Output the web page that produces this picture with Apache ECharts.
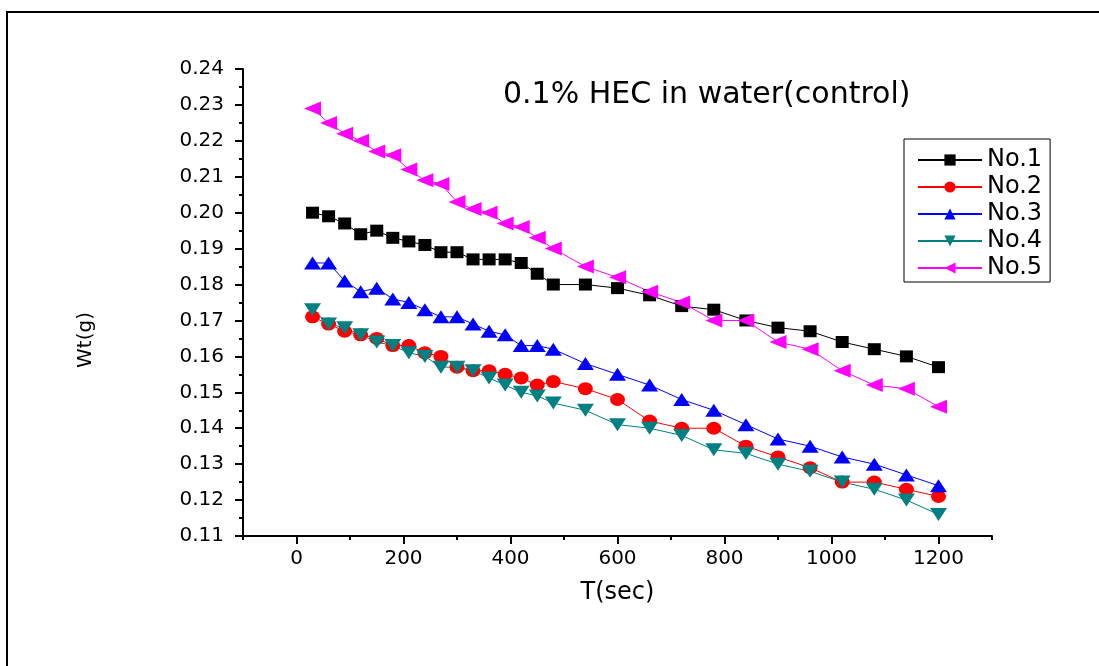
<!DOCTYPE html>
<html>
<head>
<meta charset="utf-8">
<script src="https://cdn.jsdelivr.net/npm/echarts@6/dist/echarts.min.js"></script>
<style>
html,body{margin:0;padding:0;background:#fff;}
#chart{width:1099px;height:666px;}
</style>
</head>
<body>
<div id="chart"></div>
<script>
const times = [30,60,90,120,150,180,210,240,270,300,330,360,390,420,450,480,540,600,660,720,780,840,900,960,1020,1080,1140,1200];
const no1 = [0.200,0.199,0.197,0.194,0.195,0.193,0.192,0.191,0.189,0.189,0.187,0.187,0.187,0.186,0.183,0.180,0.180,0.179,0.177,0.174,0.173,0.170,0.168,0.167,0.164,0.162,0.160,0.157];
const no2 = [0.171,0.169,0.167,0.166,0.165,0.163,0.163,0.161,0.160,0.157,0.156,0.156,0.155,0.154,0.152,0.153,0.151,0.148,0.142,0.140,0.140,0.135,0.132,0.129,0.125,0.125,0.123,0.121];
const no3 = [0.186,0.186,0.181,0.178,0.179,0.176,0.175,0.173,0.171,0.171,0.169,0.167,0.166,0.163,0.163,0.162,0.158,0.155,0.152,0.148,0.145,0.141,0.137,0.135,0.132,0.130,0.127,0.124];
const no4 = [0.173,0.169,0.168,0.166,0.164,0.163,0.161,0.160,0.157,0.157,0.156,0.154,0.152,0.150,0.149,0.147,0.145,0.141,0.140,0.138,0.134,0.133,0.130,0.128,0.125,0.123,0.120,0.116];
const no5 = [0.229,0.225,0.222,0.220,0.217,0.216,0.212,0.209,0.208,0.203,0.201,0.200,0.197,0.196,0.193,0.190,0.185,0.182,0.178,0.175,0.170,0.170,0.164,0.162,0.156,0.152,0.151,0.146];
const seriesNames = ['No.1','No.2','No.3','No.4','No.5'];
const xTickLabels = [0,200,400,600,800,1000,1200];
const titleText = '0.1% HEC in water(control)';
const xName = 'T(sec)';
const yName = 'Wt(g)';

const FONT = 'DejaVu Sans';
const pair = arr => times.map((t, i) => [t, arr[i]]);

const styles = [
  {color:'#000000', symbol:'rect', size:[13,12], rotate:0},
  {color:'#ff0000', symbol:'circle', size:[15,13], rotate:0},
  {color:'#0000ff', symbol:'triangle', size:[17,13], rotate:0},
  {color:'#008080', symbol:'triangle', size:[17,13], rotate:180},
  {color:'#ff00ff', symbol:'triangle', size:[14,17], rotate:90}
];
const datasets = [no1,no2,no3,no4,no5];

const chart = echarts.init(document.getElementById('chart'), null, {renderer:'canvas'});
chart.setOption({
  animation:false,
  backgroundColor:'#ffffff',
  textStyle:{fontFamily:FONT, color:'#000'},
  title:{
    text:titleText, left:498, top:75,
    textStyle:{fontFamily:FONT, fontSize:30, fontWeight:'normal', color:'#000'}
  },
  legend:{
    orient:'vertical', left:904, top:139,
    padding:[9,8,2,13],
    itemWidth:64, itemHeight:14, itemGap:3,
    borderColor:'#000', borderWidth:1,
    textStyle:{fontFamily:FONT, fontSize:24, color:'#000'},
    data:seriesNames
  },
  graphic:[{
    type:'polyline', silent:true,
    shape:{points:[[7,700],[7,12],[1110,12]]},
    style:{stroke:'#000', lineWidth:2, fill:null}
  },{
    type:'text', silent:true,
    x:76, y:340, rotation:Math.PI/2,
    style:{text:yName, fontFamily:FONT, fontSize:20, fill:'#000', align:'center', verticalAlign:'top'}
  }],
  grid:{left:243, right:107, top:69, bottom:130, containLabel:false},
  xAxis:[{
    type:'value', min:-100, max:1300,
    name:xName, nameLocation:'middle', nameGap:45,
    nameTextStyle:{fontFamily:FONT, fontSize:24, color:'#000'},
    axisLine:{show:true, onZero:false, lineStyle:{color:'#000', width:2}},
    axisTick:{show:true, inside:false, length:8, customValues:xTickLabels, lineStyle:{color:'#000', width:2}},
    axisLabel:{show:true, customValues:xTickLabels, margin:13, fontFamily:FONT, fontSize:20, color:'#000', formatter:v => String(v)},
    splitLine:{show:false}
  },{
    type:'value', min:-100, max:1300, interval:100, position:'bottom',
    axisLine:{show:false, onZero:false},
    axisTick:{show:true, inside:false, length:4, lineStyle:{color:'#000', width:2}},
    axisLabel:{show:false},
    splitLine:{show:false}
  }],
  yAxis:{
    type:'value', min:0.11, max:0.24, interval:0.01,
    axisLine:{show:true, onZero:false, lineStyle:{color:'#000', width:2}},
    axisTick:{show:true, inside:false, length:8, lineStyle:{color:'#000', width:2}},
    minorTick:{show:true, splitNumber:2, length:4, lineStyle:{color:'#000', width:2}},
    axisLabel:{margin:19, fontFamily:FONT, fontSize:20, color:'#000', formatter:v => v.toFixed(2)},
    splitLine:{show:false}
  },
  series: datasets.map((d, i) => ({
    name:seriesNames[i], type:'line', xAxisIndex:0,
    data:pair(d),
    symbol:styles[i].symbol, symbolSize:styles[i].size, symbolRotate:styles[i].rotate,
    showAllSymbol:true,
    itemStyle:{color:styles[i].color, opacity:1},
    lineStyle:{color:styles[i].color, width:1},
    emphasis:{disabled:true}
  }))
});
</script>
</body>
</html>
